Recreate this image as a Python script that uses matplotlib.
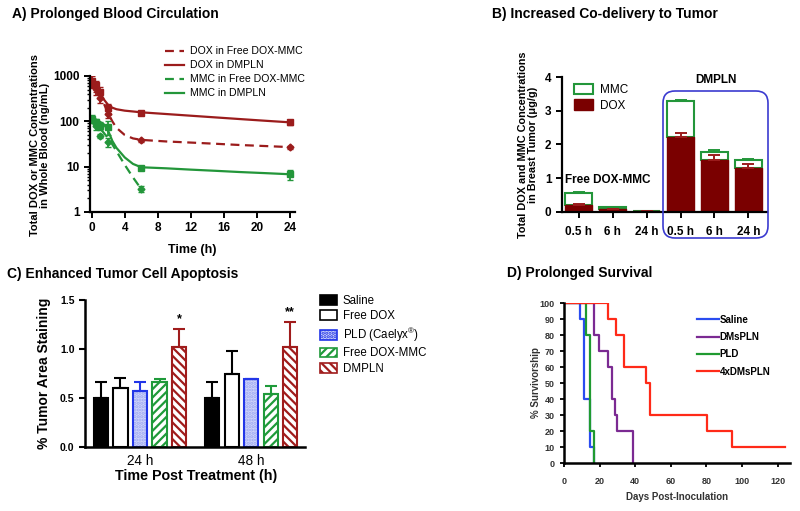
import matplotlib
matplotlib.use('Agg')
import matplotlib.pyplot as plt
from matplotlib.patches import FancyBboxPatch, Patch
from matplotlib.lines import Line2D
import numpy as np

plt.rcParams['font.family'] = ['Liberation Sans', 'DejaVu Sans']
plt.rcParams['mathtext.fontset'] = 'custom'
plt.rcParams['mathtext.rm'] = 'Liberation Sans'
plt.rcParams['hatch.linewidth'] = 1.6

RED = '#9b1c1c'
GREEN = '#23963a'
DARKRED = '#7a0000'

# ---- A) blood circulation (ng/mL)
pk_time = [0.083, 0.5, 1, 2, 6, 24]
dox_dmpln = [780, 620, 450, 200, 150, 96]
dox_dmpln_err = [200, 170, 120, 45, 12, 12]
dox_free = [700, 520, 330, 145, 38, 27]
dox_free_err = [150, 140, 80, 25, 3, 2]
mmc_free_time = [0.083, 0.5, 1, 2, 6]
mmc_free = [105, 80, 48, 35, 3.2]
mmc_free_err = [15, 15, 5, 8, 0.5]
mmc_dmpln = [115, 95, 80, 75, 9.5, 6.8]
mmc_dmpln_err = [20, 15, 15, 25, 0.8, 1.8]

# fitted curves
fit_time = [0, 0.25, 0.5, 1, 1.5, 2, 2.5, 3, 4, 5, 6, 9, 12, 15, 18, 21, 24]
dox_dmpln_fit = [950, 780, 640, 430, 300, 230, 200, 185, 172, 165, 158, 145, 133, 122, 112, 103, 95]
dox_free_fit = [900, 720, 560, 380, 240, 150, 100, 72, 50, 42, 39, 36, 34, 32, 30, 28.5, 27]
mmc_dmpln_fit = [118, 115, 110, 98, 85, 62, 37, 26, 16, 11.5, 9.7, 9.2, 8.6, 8.1, 7.6, 7.2, 6.8]
mmc_free_fit_time = [0, 0.5, 1, 1.5, 2, 2.5, 3, 4, 5, 6]
mmc_free_fit = [110, 90, 70, 55, 42, 31, 22, 11, 5.8, 3.2]

# ---- B) tumor co-delivery (ug/g)
b_labels = ['0.5 h', '6 h', '24 h', '0.5 h', '6 h', '24 h']
b_dox = [0.21, 0.08, 0.02, 2.22, 1.54, 1.30]
b_dox_err = [0.02, 0.01, 0.0, 0.12, 0.15, 0.13]
b_total = [0.56, 0.14, 0.03, 3.28, 1.79, 1.53]
b_total_err = [0.03, 0.02, 0.01, 0.05, 0.05, 0.04]

# ---- C) apoptosis
c_groups = ['24 h', '48 h']
c_names = ['Saline', 'Free DOX', r'PLD (Caelyx$^{\mathregular{®}}$)', 'Free DOX-MMC', 'DMPLN']
c_24 = [0.50, 0.60, 0.57, 0.66, 1.02]
c_24_err = [0.16, 0.10, 0.09, 0.03, 0.18]
c_48 = [0.50, 0.75, 0.69, 0.54, 1.02]
c_48_err = [0.16, 0.23, 0.005, 0.08, 0.26]

# ---- D) survival (step curves)
saline_days = [0, 9, 11, 14.6, 17]
saline_surv = [100, 90, 40, 10, 0]
dmspln_days = [0, 17, 19.5, 24.5, 27, 28.5, 30, 38.5]
dmspln_surv = [100, 80, 70, 60, 40, 30, 20, 0]
pld_days = [0, 12.6, 14.7, 17]
pld_surv = [100, 80, 20, 0]
x4_days = [0, 25, 29, 33.7, 46.2, 48.3, 80.5, 94.5, 124]
x4_surv = [100, 90, 80, 60, 50, 30, 20, 10, 10]

fig = plt.figure(figsize=(8, 5.11), dpi=100)
W, H = 800.0, 511.0


def px_axes(l, t, r, b):
    return fig.add_axes([l / W, 1 - b / H, (r - l) / W, (b - t) / H])


def ftext(x, y, s, **kw):
    fig.text(x / W, 1 - y / H, s, **kw)


def clean(ax, lw=1.6):
    ax.spines['top'].set_visible(False)
    ax.spines['right'].set_visible(False)
    ax.spines['left'].set_linewidth(lw)
    ax.spines['bottom'].set_linewidth(lw)


# ================= A
axA = px_axes(90, 76, 295, 212)
clean(axA)
axA.plot(fit_time, dox_free_fit, color=RED, lw=1.6, ls=(0, (4, 2.5)))
axA.plot(fit_time, dox_dmpln_fit, color=RED, lw=1.6)
axA.plot(mmc_free_fit_time, mmc_free_fit, color=GREEN, lw=1.6, ls=(0, (4, 2.5)))
axA.plot(fit_time, mmc_dmpln_fit, color=GREEN, lw=1.6)
axA.errorbar(pk_time, dox_free, yerr=dox_free_err, fmt='D', ms=3.5, color=RED, capsize=2.5, elinewidth=1.3)
axA.errorbar(pk_time, dox_dmpln, yerr=dox_dmpln_err, fmt='s', ms=4, color=RED, capsize=2.5, elinewidth=1.3)
axA.errorbar(mmc_free_time, mmc_free, yerr=mmc_free_err, fmt='D', ms=3.5, color=GREEN, capsize=2.5, elinewidth=1.3)
axA.errorbar(pk_time, mmc_dmpln, yerr=mmc_dmpln_err, fmt='s', ms=4, color=GREEN, capsize=2.5, elinewidth=1.3)
axA.set_yscale('log')
axA.set_ylim(1, 1000)
axA.set_xlim(-0.2, 24.6)
axA.set_xticks([0, 4, 8, 12, 16, 20, 24])
axA.set_yticks([1, 10, 100, 1000])
axA.set_yticklabels(['1', '10', '100', '1000'])
axA.tick_params(labelsize=8.5, width=1.4, length=4)
axA.tick_params(which='minor', width=1.0, length=2.5)
for lab in axA.get_xticklabels() + axA.get_yticklabels():
    lab.set_fontweight('bold')
legA = [Line2D([], [], color=RED, lw=1.6, ls=(0, (4, 2.5))),
        Line2D([], [], color=RED, lw=1.6),
        Line2D([], [], color=GREEN, lw=1.6, ls=(0, (4, 2.5))),
        Line2D([], [], color=GREEN, lw=1.6)]
fig.legend(legA, ['DOX in Free DOX-MMC', 'DOX in DMPLN', 'MMC in Free DOX-MMC', 'MMC in DMPLN'],
           loc='upper left', bbox_to_anchor=(160 / W, 1 - 41 / H), frameon=False,
           fontsize=7.6, handlelength=1.8, handletextpad=0.5, labelspacing=0.38, borderpad=0)
ftext(12, 14, 'A) Prolonged Blood Circulation', fontsize=10, fontweight='bold', va='center')
ftext(40, 145, 'Total DOX or MMC Concentrations\nin Whole Blood (ng/mL)', rotation=90,
      ha='center', va='center', fontsize=8, fontweight='bold', linespacing=1.1)
ftext(192, 250, 'Time (h)', ha='center', va='center', fontsize=9, fontweight='bold')

# ================= B
axB = px_axes(562, 77, 767, 212)
clean(axB)
xb = np.arange(len(b_labels))
mmc_part = [t - d for t, d in zip(b_total, b_dox)]
axB.bar(xb, mmc_part, bottom=b_dox, width=0.8, facecolor='white', edgecolor=GREEN, lw=1.5)
axB.bar(xb, b_dox, width=0.8, facecolor=DARKRED, edgecolor=DARKRED, lw=1.0)
axB.errorbar(xb, b_total, yerr=[np.zeros(6), b_total_err], fmt='none', ecolor=GREEN, capsize=4, elinewidth=1.4, capthick=1.4)
axB.errorbar(xb, b_dox, yerr=[np.zeros(6), b_dox_err], fmt='none', ecolor=RED, capsize=4, elinewidth=1.4, capthick=1.4)
axB.set_xlim(-0.5, 5.55)
axB.set_ylim(0, 4)
axB.set_yticks([0, 1, 2, 3, 4])
axB.set_xticks(xb)
axB.set_xticklabels(b_labels)
axB.tick_params(axis='x', length=0, pad=6)
axB.tick_params(labelsize=8.5, width=1.4, length=4)
for lab in axB.get_xticklabels() + axB.get_yticklabels():
    lab.set_fontweight('bold')
axB.legend([Patch(facecolor='white', edgecolor=GREEN, lw=1.5), Patch(facecolor=DARKRED, edgecolor=DARKRED)],
           ['MMC', 'DOX'], loc='upper left', bbox_to_anchor=(568 / W, 1 - 78 / H),
           bbox_transform=fig.transFigure, frameon=False, fontsize=8.5,
           handlelength=1.6, handleheight=1.0, handletextpad=0.6, labelspacing=0.25, borderpad=0)
ftext(565, 180, 'Free DOX-MMC', fontsize=8.5, fontweight='bold', va='center')
ftext(716, 80, 'DMPLN', fontsize=8.5, fontweight='bold', va='center', ha='center')
box = FancyBboxPatch((6.63, (H - 238) / 100), 1.05, 1.47, boxstyle='round,pad=0,rounding_size=0.12',
                     transform=fig.dpi_scale_trans, fill=False, edgecolor='#3b3bd0', lw=1.2)
fig.add_artist(box)
ftext(492, 14, 'B) Increased Co-delivery to Tumor', fontsize=10, fontweight='bold', va='center')
ftext(528, 145, 'Total DOX and MMC Concentrations\nin Breast Tumor (\u03bcg/g)', rotation=90,
      ha='center', va='center', fontsize=7.8, fontweight='bold', linespacing=1.1)

# ================= C
axC = px_axes(85, 300, 305, 447)
clean(axC, lw=1.8)
styles = [dict(facecolor='black', edgecolor='black', hatch=None),
          dict(facecolor='white', edgecolor='black', hatch=None),
          dict(facecolor='#d3d8fa', edgecolor='#2236e8', hatch='.....'),
          dict(facecolor='white', edgecolor='#1f9a3a', hatch='////'),
          dict(facecolor='white', edgecolor='#a01c1c', hatch='\\\\\\\\')]
err_cols = ['black', 'black', '#2236e8', '#1f9a3a', '#a01c1c']
for gi, (vals, errs) in enumerate([(c_24, c_24_err), (c_48, c_48_err)]):
    pos = np.arange(5) + gi * 5.7
    for i in range(5):
        st = styles[i]
        if i == 2:
            axC.bar(pos[i], vals[i], width=0.72, facecolor=st['facecolor'], edgecolor='#9aa6f4',
                    hatch=st['hatch'], lw=0)
            axC.bar(pos[i], vals[i], width=0.72, fill=False, edgecolor=st['edgecolor'], lw=1.5)
        else:
            axC.bar(pos[i], vals[i], width=0.72, facecolor=st['facecolor'], edgecolor=st['edgecolor'],
                    hatch=st['hatch'], lw=1.5)
        axC.errorbar(pos[i], vals[i], yerr=[[0], [errs[i]]], fmt='none', ecolor=err_cols[i],
                     capsize=4, elinewidth=1.5, capthick=1.5)
axC.text(4, c_24[4] + c_24_err[4] + 0.04, '*', ha='center', va='bottom', fontsize=9, fontweight='bold')
axC.text(9.7, c_48[4] + c_48_err[4] + 0.03, '**', ha='center', va='bottom', fontsize=9, fontweight='bold')
axC.set_xlim(-0.82, 10.46)
axC.set_ylim(0, 1.5)
axC.set_yticks([0, 0.5, 1.0, 1.5])
axC.set_yticklabels(['0.0', '0.5', '1.0', '1.5'])
axC.set_xticks([2, 7.7])
axC.set_xticklabels(c_groups)
axC.tick_params(axis='x', length=0, labelsize=9.8, pad=5)
axC.tick_params(axis='y', labelsize=7.5, width=1.5, length=4)
for lab in axC.get_yticklabels():
    lab.set_fontweight('bold')
legC = []
for i, st in enumerate(styles):
    if i == 2:
        legC.append(Patch(facecolor=st['facecolor'], edgecolor='#2236e8', hatch='.....', lw=1.2))
    else:
        legC.append(Patch(facecolor=st['facecolor'], edgecolor=st['edgecolor'], hatch=st['hatch'], lw=1.2))
fig.legend(legC, c_names, loc='upper left', bbox_to_anchor=(314 / W, 1 - 289 / H), frameon=False,
           fontsize=8.3, handlelength=1.5, handleheight=0.9, handletextpad=0.5, labelspacing=0.3,
           borderpad=0)
ftext(7, 274, 'C) Enhanced Tumor Cell Apoptosis', fontsize=10, fontweight='bold', va='center')
ftext(44, 373, '% Tumor Area Staining', rotation=90, ha='center', va='center', fontsize=10, fontweight='bold')
ftext(196, 476, 'Time Post Treatment (h)', ha='center', va='center', fontsize=10.3, fontweight='bold')

# ================= D
axD = px_axes(564, 303, 790, 463)
clean(axD, lw=1.8)
axD.step(saline_days, saline_surv, where='post', color='#2a4cf0', lw=1.6)
axD.step(dmspln_days, dmspln_surv, where='post', color='#7b2a92', lw=1.6)
axD.step(pld_days, pld_surv, where='post', color='#1f9a30', lw=1.6)
axD.step(x4_days, x4_surv, where='post', color='#ff2a18', lw=1.6)
axD.set_xlim(0, 127)
axD.set_ylim(0, 100)
axD.set_xticks([0, 20, 40, 60, 80, 100, 120])
axD.set_yticks(range(0, 101, 10))
axD.tick_params(labelsize=6.5, width=1.3, length=3, labelcolor='#333333')
for lab in axD.get_xticklabels() + axD.get_yticklabels():
    lab.set_fontweight('bold')
axD.tick_params(axis='x', pad=7)
legD = [Line2D([], [], color=c, lw=1.6) for c in ['#2a4cf0', '#7b2a92', '#1f9a30', '#ff2a18']]
fig.legend(legD, ['Saline', 'DMsPLN', 'PLD', '4xDMsPLN'], loc='upper left',
           bbox_to_anchor=(692 / W, 1 - 310 / H), frameon=False, prop={'size': 7, 'weight': 'bold'},
           handlelength=2.3, handletextpad=0.05, labelspacing=0.75, borderpad=0)
ftext(507, 273, 'D) Prolonged Survival', fontsize=10, fontweight='bold', va='center')
ftext(536, 383, '% Survivorship', rotation=90, ha='center', va='center', fontsize=7, fontweight='bold',
      color='#333333')
ftext(677, 497, 'Days Post-Inoculation', ha='center', va='center', fontsize=7, fontweight='bold',
      color='#333333')

fig.savefig('out.png', dpi=100)
